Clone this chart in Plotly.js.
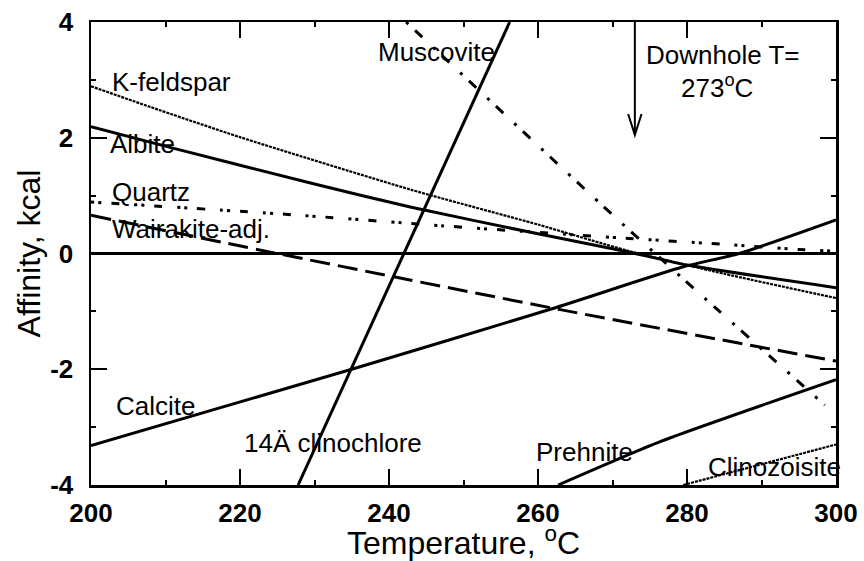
<!DOCTYPE html>
<html>
<head>
<meta charset="utf-8">
<script src="https://cdn.plot.ly/plotly-3.0.1.min.js"></script>
<style>html,body{margin:0;padding:0;background:#fff;}#chart{width:864px;height:561px;}</style>
</head>
<body>
<div id="chart"></div>
<script>
// ---- Data (Temperature °C, Affinity kcal) ----
const kfeldT   = [200, 208, 220, 243, 260, 272, 285, 300];
const kfeldA   = [2.89, 2.53, 2.01, 1.10, 0.50, 0.05, -0.35, -0.77];

const albiteT  = [200, 211, 230, 243, 260, 272, 280, 300];
const albiteA  = [2.19, 1.82, 1.20, 0.80, 0.34, 0.03, -0.20, -0.59];

const quartzT  = [200, 227, 247, 271, 286, 295, 300];
const quartzA  = [0.89, 0.67, 0.48, 0.27, 0.15, 0.07, 0.04];

const wairT    = [200, 225, 263, 300];
const wairA    = [0.66, 0.00, -0.97, -1.86];

const zeroT    = [200, 300];
const zeroA    = [0, 0];

const muscT    = [242.3, 268.3, 279.5, 298.5];
const muscA    = [4.0, 0.87, -0.44, -2.62];

const clinoT   = [227.8, 256.2];
const clinoA   = [-4.0, 4.0];

const calciteT = [200, 235, 262, 279.5, 287, 300];
const calciteA = [-3.32, -2.00, -0.95, -0.23, 0.00, 0.58];

const prehT    = [262.7, 276.4, 300];
const prehA    = [-4.0, -3.25, -2.18];

const czoT     = [279.5, 300];
const czoA     = [-4.0, -3.30];

const downholeT = 273;
const arrowTipA = 2.05;

const xTickVals = [200, 220, 240, 260, 280, 300];
const yTickVals = [-4, -2, 0, 2, 4];

// ---- Drawing ----
const FONT = 'Liberation Sans, Arial, Helvetica, sans-serif';
const X_RANGE = [200, 300], Y_RANGE = [-4, 4];

function tr(x, y, width, dash) {
  return {x: x, y: y, type: 'scatter', mode: 'lines',
          line: {color: '#000', width: width, dash: dash, shape: 'spline', smoothing: 0.6}};
}
const data = [
  tr(kfeldT, kfeldA, 2.2, '3px,1px'),
  tr(albiteT, albiteA, 3, 'solid'),
  tr(quartzT, quartzA, 3, '3px,4px,3px,10px,8px,15px'),
  tr(wairT, wairA, 3, '20px,8px'),
  tr(zeroT, zeroA, 3, 'solid'),
  tr(muscT, muscA, 3, '3px,9px,10px,15px'),
  tr(clinoT, clinoA, 3, 'solid'),
  tr(calciteT, calciteA, 3, 'solid'),
  tr(prehT, prehA, 3, 'solid'),
  tr(czoT, czoA, 2.2, '3px,1px')
];

function lab(text, x, y, xanchor) {
  return {text: text, x: x, y: y, xref: 'x', yref: 'y', showarrow: false,
          xanchor: xanchor || 'left', yanchor: 'middle',
          font: {family: FONT, size: 26, color: '#000'}};
}
const annotations = [
  lab('K-feldspar', 202.5, 2.96),
  lab('Albite', 202.3, 1.89),
  lab('Quartz', 202.5, 1.06),
  lab('Wairakite-adj.', 202.5, 0.42),
  lab('Muscovite', 238.2, 3.48),
  lab('Calcite', 203.1, -2.63),
  lab('14Ä clinochlore', 220.3, -3.27),
  lab('Prehnite', 259.5, -3.43),
  lab('Clinozoisite', 282.6, -3.69),
  lab('Downhole T=', 284.7, 3.43, 'center'),
  lab(downholeT + '<sup>o</sup>C', 284.0, 2.88, 'center')
];

const shapes = [
  {type: 'line', xref: 'x', yref: 'y', x0: downholeT, x1: downholeT, y0: Y_RANGE[1], y1: arrowTipA,
   line: {color: '#000', width: 2}},
  {type: 'path', xref: 'x', yref: 'y',
   path: 'M ' + (downholeT - 0.9) + ',' + (arrowTipA + 0.36) + ' L ' + downholeT + ',' + arrowTipA +
         ' L ' + (downholeT + 0.9) + ',' + (arrowTipA + 0.36),
   line: {color: '#000', width: 2}}
];

const axisCommon = {
  showgrid: false, zeroline: false, showline: true, linecolor: '#000', linewidth: 2.5,
  ticks: 'inside', ticklen: 16, tickwidth: 2, tickcolor: '#000', mirror: 'allticks',
  tickfont: {family: FONT, size: 26, color: '#000', weight: 'bold'}
};
const layout = {
  width: 864, height: 561,
  margin: {l: 91, r: 28, t: 22, b: 76},
  paper_bgcolor: '#fff', plot_bgcolor: '#fff',
  showlegend: false,
  xaxis: Object.assign({}, axisCommon, {
    range: X_RANGE, tickvals: xTickVals, ticktext: xTickVals.map(String),
    minor: {dtick: 10, tick0: 200, ticks: 'inside', ticklen: 5, tickwidth: 2, tickcolor: '#000'},
    ticklabelstandoff: 3,
    title: {text: 'Temperature, <sup>o</sup>C', font: {family: FONT, size: 32, color: '#000'}, standoff: 4}
  }),
  yaxis: Object.assign({}, axisCommon, {
    range: Y_RANGE, tickvals: yTickVals, ticktext: yTickVals.map(String),
    minor: {dtick: 1, tick0: -4, ticks: 'inside', ticklen: 5, tickwidth: 2, tickcolor: '#000'},
    ticklabelstandoff: 10,
    title: {text: 'Affinity, kcal', font: {family: FONT, size: 32, color: '#000'}, standoff: 0}
  }),
  annotations: annotations,
  shapes: shapes
};
Plotly.newPlot('chart', data, layout, {staticPlot: true});
</script>
</body>
</html>
